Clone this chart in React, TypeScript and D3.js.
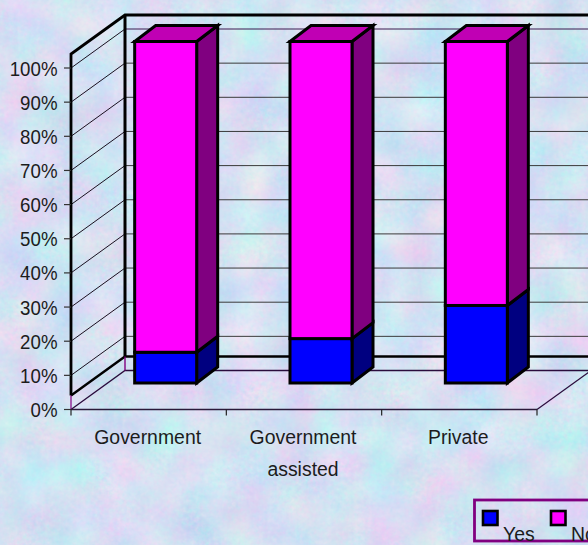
import React from "react";
import * as d3 from "d3";

const categories = ["Government", "Government assisted", "Private"];
const yesValues = [9, 13, 22.7];
const noValues = [91, 87, 77.3];
const percentTicks = [0, 10, 20, 30, 40, 50, 60, 70, 80, 90, 100];
const seriesNames = ["Yes", "No"];

const W = 588;
const H = 545;
const FONT = '"Liberation Sans", Arial, sans-serif';
const INK = "#000";
const TEXT = "#1c1c1c";

// Oblique offset of the back wall relative to the front of the chart box
const WALL_DX = 54;
const WALL_DY = -39;
// Where the bars' front faces sit within that depth, and how deep they are
const BAR_SHIFT_DY = -26.5;
const BAR_DX = 21;
const BAR_DY = -16;
const BAR_W = 62;
const FLOOR_LIFT = -14;

const y = d3.scaleLinear().domain([0, 100]).range([409.5, 68]);
const x = d3.scaleBand<string>().domain(categories).range([71, 537]);

const rows = categories.map((c, i) => ({ c, Yes: yesValues[i], No: noValues[i] }));
const stacked = d3.stack<any>().keys(seriesNames)(rows);

const faces: Record<string, { front: string; side: string; top: string }> = {
  Yes: { front: "#0000ff", side: "#000080", top: "#0000c0" },
  No: { front: "#ff00ff", side: "#800080", top: "#c000b4" },
};

const line = d3.line();

// Narrow, tall lettering: the glyphs are squeezed horizontally around their anchor
function Label({ px, py, sx, anchor, children }: any) {
  return (
    <text
      transform={`translate(${px},${py}) scale(${sx},1)`}
      textAnchor={anchor}
      fontSize={21}
      fill={TEXT}
    >
      {children}
    </text>
  );
}

function Bar({ cat, y0, y1, name, showTop }: any) {
  const xl = (x(cat) as number) + x.bandwidth() / 2 - BAR_W / 2 + 17;
  const xr = xl + BAR_W;
  const yb = y(y0) + BAR_SHIFT_DY;
  const yt = y(y1) + BAR_SHIFT_DY;
  const f = faces[name];
  const stroke = { stroke: INK, strokeWidth: 3, strokeLinejoin: "miter" as const };
  return (
    <g>
      <path
        d={line([[xr, yb], [xr + BAR_DX, yb + BAR_DY], [xr + BAR_DX, yt + BAR_DY], [xr, yt]]) + "Z"}
        fill={f.side}
        {...stroke}
      />
      {showTop && (
        <path
          d={line([[xl, yt], [xl + BAR_DX, yt + BAR_DY], [xr + BAR_DX, yt + BAR_DY], [xr, yt]]) + "Z"}
          fill={f.top}
          {...stroke}
        />
      )}
      <rect x={xl} y={yt} width={BAR_W} height={yb - yt} fill={f.front} {...stroke} />
    </g>
  );
}

export default function App() {
  const backX = 71 + WALL_DX;
  const floorY = y(0) + FLOOR_LIFT;
  return (
    <svg
      width={W}
      height={H}
      viewBox={`0 0 ${W} ${H}`}
      style={{ position: "absolute", left: 0, top: 0, display: "block" }}
      fontFamily={FONT}
    >
      <defs>
        {/* Mottled pale blue and lilac paper */}
        <filter id="paper" x="0" y="0" width="100%" height="100%" colorInterpolationFilters="sRGB">
          <feTurbulence type="fractalNoise" baseFrequency="0.022" numOctaves={2} seed={7} result="cloud" />
          <feTurbulence type="fractalNoise" baseFrequency="0.22" numOctaves={2} seed={3} result="grain" />
          <feComposite in="cloud" in2="grain" operator="arithmetic" k1="0" k2="0.75" k3="0.25" k4="0" result="mix" />
          <feColorMatrix
            in="mix"
            type="matrix"
            values="0.42 0 0 0 0.62  -0.1 0.24 0 0 0.81  0 0 0.08 0 0.91  0 0 0 0 1"
          />
        </filter>
      </defs>

      <rect width={W} height={H} fill="#cfe2f5" filter="url(#paper)" />

      {/* Gridlines on the side wall and back wall */}
      {percentTicks.map((t) =>
        t === 0 ? null : (
          <g key={t}>
            <line x1={71} y1={y(t)} x2={backX} y2={y(t) + WALL_DY} stroke="#1a1020" strokeWidth={1} />
            <line
              x1={backX}
              y1={y(t) + WALL_DY}
              x2={W}
              y2={y(t) + WALL_DY}
              stroke={t === 100 ? "#3c1a50" : "#3a3a3a"}
              strokeWidth={1}
            />
          </g>
        )
      )}

      {/* Floor outline */}
      <path
        d={line([[71, y(0)], [backX, y(0) + WALL_DY], [W, y(0) + WALL_DY]]) as string}
        fill="none"
        stroke="#2a0c3c"
        strokeWidth={1.3}
      />
      <path
        d={line([[537, y(0)], [537 + WALL_DX, y(0) + WALL_DY]]) as string}
        fill="none"
        stroke="#2a0c3c"
        strokeWidth={1.2}
      />

      {/* Raised floor plate and wall frame */}
      <path
        d={line([[71, floorY], [backX, floorY + WALL_DY], [W, floorY + WALL_DY]]) as string}
        fill="none"
        stroke={INK}
        strokeWidth={2.4}
      />
      <path
        d={line([[71, floorY], [71, y(100) + FLOOR_LIFT], [backX, y(100) + FLOOR_LIFT + WALL_DY], [W, y(100) + FLOOR_LIFT + WALL_DY]]) as string}
        fill="none"
        stroke={INK}
        strokeWidth={2.8}
      />
      <line
        x1={backX}
        y1={y(100) + FLOOR_LIFT + WALL_DY}
        x2={backX}
        y2={floorY + WALL_DY}
        stroke={INK}
        strokeWidth={3}
      />
      <line x1={backX} y1={floorY + WALL_DY} x2={backX} y2={y(0) + WALL_DY} stroke="#800080" strokeWidth={1.4} />
      <line x1={71} y1={floorY} x2={71} y2={y(0)} stroke="#800080" strokeWidth={1.2} />

      {/* Stacked bars */}
      {categories.map((c, i) =>
        stacked.map((s, si) => (
          <Bar
            key={c + s.key}
            cat={c}
            y0={s[i][0]}
            y1={s[i][1]}
            name={s.key}
            showTop={si === stacked.length - 1}
          />
        ))
      )}

      {/* Value axis */}
      {percentTicks.map((t) => (
        <g key={t}>
          <line x1={64} y1={y(t)} x2={71} y2={y(t)} stroke="#333" strokeWidth={1.2} />
          <Label px={57.5} py={y(t) + 7.5} sx={0.89} anchor="end">
            {t}%
          </Label>
        </g>
      ))}

      {/* Category axis */}
      <line x1={71} y1={y(0)} x2={537} y2={y(0)} stroke="#2a1a3a" strokeWidth={1.3} />
      {[...categories.map((c) => x(c) as number), 537].map((px) => (
        <line key={px} x1={px} y1={y(0)} x2={px} y2={y(0) + 6} stroke="#222" strokeWidth={1.2} />
      ))}
      {categories.map((c) => {
        const parts = c === "Government assisted" ? ["Government", "assisted"] : [c];
        const cx = (x(c) as number) + x.bandwidth() / 2 - 1;
        return parts.map((p, i) => (
          <Label key={p + i} px={cx} py={444 + i * 32} sx={0.925} anchor="middle">
            {p}
          </Label>
        ));
      })}

      {/* Legend */}
      <rect x={474.5} y={500} width={140} height={41} fill="none" stroke="#800080" strokeWidth={2.8} />
      {seriesNames.map((n, i) => {
        const sx = 483 + i * 68;
        return (
          <g key={n}>
            <rect x={sx} y={511} width={14.5} height={14} fill={faces[n].front} stroke={INK} strokeWidth={2.6} />
            <Label px={sx + 20} py={541} sx={0.925} anchor="start">
              {n}
            </Label>
          </g>
        );
      })}
    </svg>
  );
}
